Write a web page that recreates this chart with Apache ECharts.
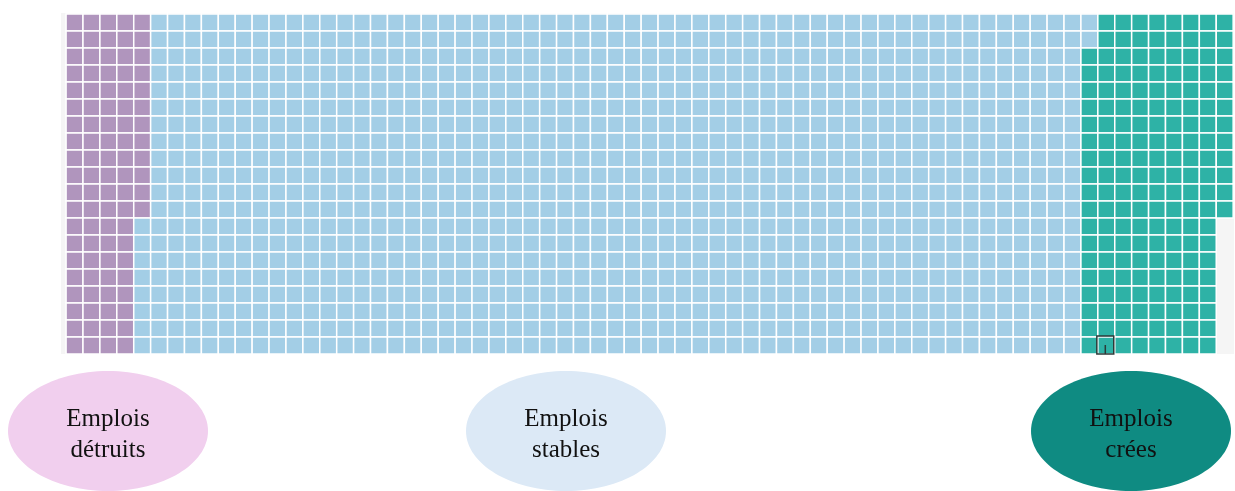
<!DOCTYPE html>
<html>
<head>
<meta charset="utf-8">
<script src="https://cdn.jsdelivr.net/npm/echarts@6/dist/echarts.min.js"></script>
<style>
  html, body { margin: 0; padding: 0; background: #fff; }
  #chart { width: 1235px; height: 491px; }
</style>
</head>
<body>
<div id="chart"></div>
<script>
// waffle: one cell per job, filled column by column from the top
const categories = ["Emplois détruits", "Emplois stables", "Emplois crées"];
const counts = [92, 1110, 170];
const gridRows = 20;
const gridCols = 69;
const cellColors = ["#b095bd", "#a3cee6", "#2eb2a6"];
const bubbleColors = ["#f1cfee", "#dce9f6", "#0f8b82"];
// the small highlighted cell near the bottom of the green block
const markedCell = [61, 19];

const cells = [];
let idx = 0;
counts.forEach((n, c) => {
  for (let k = 0; k < n; k++, idx++) {
    cells.push([Math.floor(idx / gridRows), idx % gridRows, c]);
  }
});

const chart = echarts.init(document.getElementById("chart"));

function renderCell(params, api) {
  const p = api.coord([api.value(0), api.value(1)]);
  const s = api.size([1, 1]);
  return {
    type: "rect",
    shape: { x: p[0], y: p[1], width: s[0], height: s[1] },
    style: { fill: cellColors[api.value(2)], stroke: "#ffffff", lineWidth: 1.5 },
  };
}

function renderMarker(params, api) {
  const p = api.coord([api.value(0), api.value(1)]);
  const s = api.size([1, 1]);
  return {
    type: "group",
    children: [
      {
        type: "rect",
        shape: { x: p[0] - 1, y: p[1] - 1, width: s[0], height: s[1] + 1 },
        style: { fill: "none", stroke: "#2b3a38", lineWidth: 1.5 },
      },
      {
        type: "line",
        shape: { x1: p[0] + s[0] / 2 - 1, y1: p[1] + 8, x2: p[0] + s[0] / 2 - 1, y2: p[1] + s[1] },
        style: { stroke: "#2b3a38", lineWidth: 1.5 },
      },
    ],
  };
}

const bubbleX = [108, 566, 1131];
const graphic = [];
categories.forEach((name, i) => {
  graphic.push({
    type: "ellipse",
    shape: { cx: bubbleX[i], cy: 431, rx: 100, ry: 60 },
    style: { fill: bubbleColors[i] },
    z: 1,
  });
  graphic.push({
    type: "text",
    x: bubbleX[i],
    y: 435,
    style: {
      text: name.replace(" ", "\n"),
      fill: "#111",
      font: '25px "Liberation Serif", "DejaVu Serif", serif',
      lineHeight: 31,
      align: "center",
      verticalAlign: "middle",
    },
    z: 2,
  });
});

chart.setOption({
  animation: false,
  grid: {
    left: 61,
    right: 1,
    top: 13,
    bottom: 137,
    show: true,
    backgroundColor: "#f5f5f5",
    borderWidth: 0,
  },
  xAxis: {
    type: "value",
    min: -0.3,
    max: gridCols + 0.05,
    show: false,
  },
  yAxis: {
    type: "value",
    min: -0.06,
    max: gridRows,
    inverse: true,
    show: false,
  },
  series: [
    {
      type: "custom",
      renderItem: renderCell,
      data: cells,
      encode: { x: 0, y: 1 },
      silent: true,
    },
    {
      type: "custom",
      renderItem: renderMarker,
      data: [markedCell],
      encode: { x: 0, y: 1 },
      silent: true,
      z: 3,
    },
  ],
  graphic: graphic,
});
</script>
</body>
</html>
